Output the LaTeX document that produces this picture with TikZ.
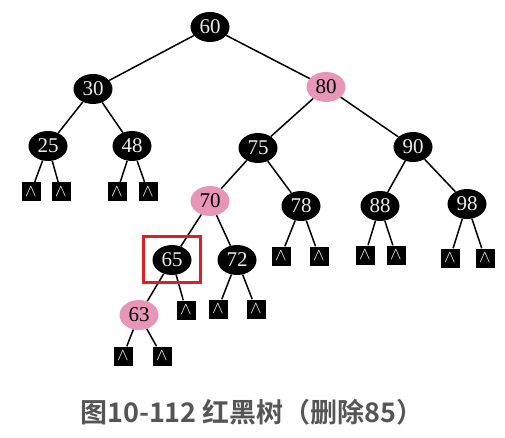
\documentclass[tikz,border=0pt]{standalone}
\usepackage{fontspec}
\setmainfont{Liberation Serif}
\newfontfamily\cjkbold[BoldFont={Noto Sans CJK SC Bold}]{Noto Sans CJK SC}
\usepackage{xcolor}
\usepackage{tikz}
\usetikzlibrary{shapes.geometric}
\definecolor{rbpink}{RGB}{232,150,184}
\definecolor{rbred}{RGB}{226,30,36}
\definecolor{capgray}{RGB}{85,85,85}
\tikzstyle{blacknode} = [ellipse,fill=black,text=white!92!black,minimum width=39pt,minimum height=30pt,inner sep=0pt,font=\fontsize{21}{21}\selectfont]
\tikzstyle{rednode} = [blacknode,fill=rbpink,text=black]
\tikzstyle{nilleaf} = [rectangle,fill=black,text=white,minimum size=19pt,inner sep=0pt,font=\fontsize{17}{17}\selectfont]
\tikzstyle{link} = [line width=1.5pt]

\begin{document}
\begin{tikzpicture}[x=1pt,y=-1pt]
			\useasboundingbox (0,0) rectangle (505,438);
			
			% Inner nodes:
			\node[blacknode] (n60) at (210,27) {60};
			\node[blacknode] (n30) at (93,89) {30};
			\node[rednode]   (n80) at (326,87) {80};
			\node[blacknode] (n25) at (48,146) {25};
			\node[blacknode] (n48) at (132,146) {48};
			\node[blacknode] (n75) at (258,148) {75};
			\node[blacknode] (n90) at (413,147) {90};
			\node[rednode]   (n70) at (210,201) {70};
			\node[blacknode] (n78) at (301,206) {78};
			\node[blacknode] (n88) at (380,206) {88};
			\node[blacknode] (n98) at (467,204) {98};
			\node[blacknode] (n65) at (172,260) {65};
			\node[blacknode] (n72) at (237,260) {72};
			\node[rednode]   (n63) at (139,315) {63};
			
			% Edges between the inner nodes:
			\foreach \a/\b in {n60/n30,n60/n80,n30/n25,n30/n48,n80/n75,n80/n90,n75/n70,n75/n78,n90/n88,n90/n98,n70/n65,n70/n72,n65/n63}
			{
				\draw[link] (\a) -- (\b);
			}
			
			% NIL leaves:
			% Name, position and parent of each one
			\foreach \l/\x/\y/\p in {a/31/192/n25,b/61/192/n25,c/117/192/n48,d/148/192/n48,e/281/256/n78,f/319/256/n78,g/365/255/n88,h/396/255/n88,i/450/258/n98,j/485/258/n98,k/186/310/n65,l/218/309/n72,m/256/309/n72,n/123/356/n63,o/162/356/n63}
			{
				\node[nilleaf] (nil\l) at (\x,\y) {$\wedge$};
				\draw[link] (\p) -- (nil\l);
			}
			
			% Marked node:
			\draw[rbred, line width=3pt] (n65.center) ++(-29,-24) rectangle ++(57,46);
			
			% Caption:
			\node[text=capgray, font=\cjkbold\bfseries\fontsize{27}{27}\selectfont] (caption) at (252,412) {图10-112 红黑树（删除85）};
			
\end{tikzpicture}
\end{document}
